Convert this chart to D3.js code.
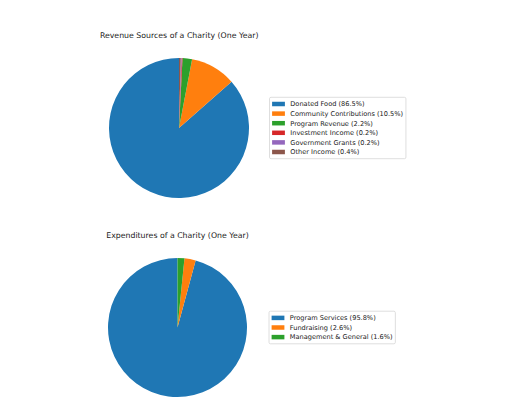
<!DOCTYPE html>
<html>
<head>
<meta charset="utf-8">
<script src="https://cdn.jsdelivr.net/npm/d3@7"></script>
<style>
  html, body { margin: 0; padding: 0; background: #fff; }
  svg { display: block; }
  text { font-family: "DejaVu Sans", sans-serif; fill: #1a1a1a; }
</style>
</head>
<body>
<svg id="chart" width="512" height="415"></svg>
<script>
// ---- data ----
const revenueTitle = "Revenue Sources of a Charity (One Year)";
const revenueCategories = ["Donated Food", "Community Contributions", "Program Revenue", "Investment Income", "Government Grants", "Other Income"];
const revenueValues = [86.5, 10.5, 2.2, 0.2, 0.2, 0.4];

const expenseTitle = "Expenditures of a Charity (One Year)";
const expenseCategories = ["Program Services", "Fundraising", "Management & General"];
const expenseValues = [95.8, 2.6, 1.6];

const palette = ["#1f77b4", "#ff7f0e", "#2ca02c", "#d62728", "#9467bd", "#8c564b"];

// ---- layout ----
const svg = d3.select("#chart");

const panels = [
  { title: revenueTitle, cats: revenueCategories, vals: revenueValues,
    cx: 179, cy: 128, r: 70, titleX: 179.2, titleY: 38, legX: 269.5 },
  { title: expenseTitle, cats: expenseCategories, vals: expenseValues,
    cx: 177.5, cy: 327.5, r: 69.5, titleX: 177.5, titleY: 237.5, legX: 269 }
];

const fmt = v => d3.format(".1f")(v) + "%";

panels.forEach(p => {
  const color = d3.scaleOrdinal().domain(p.cats).range(palette);
  const total = d3.sum(p.vals);
  const data = p.cats.map((c, i) => ({ cat: c, val: p.vals[i] }));

  // counterclockwise from 12 o'clock (matplotlib startangle=90)
  const pie = d3.pie().sort(null).value(d => d.val).startAngle(0).endAngle(-2 * Math.PI);
  const arc = d3.arc().innerRadius(0).outerRadius(p.r);

  svg.append("text")
    .attr("x", p.titleX).attr("y", p.titleY)
    .attr("text-anchor", "middle")
    .style("font-size", "7.8px")
    .text(p.title);

  const g = svg.append("g").attr("transform", `translate(${p.cx},${p.cy})`);
  g.selectAll("path").data(pie(data)).join("path")
    .attr("d", arc)
    .attr("fill", d => color(d.data.cat));

  // legend
  const fs = 6.6;
  const rowH = 9.6;
  const n = data.length;
  const boxH = (n - 1) * rowH + 13.4;
  const boxTop = p.cy - boxH / 2;
  const leg = svg.append("g").attr("transform", `translate(${p.legX},${boxTop})`);
  const frame = leg.append("rect")
    .attr("x", 0).attr("y", 0)
    .attr("height", boxH)
    .attr("rx", 1.5).attr("ry", 1.5)
    .attr("fill", "#fff").attr("fill-opacity", 0.8)
    .attr("stroke", "#d6d6d6").attr("stroke-width", 0.8);

  let maxW = 0;
  data.forEach((d, i) => {
    const yc = 6.7 + i * rowH;
    leg.append("rect")
      .attr("x", 2.6).attr("y", yc - 2.25)
      .attr("width", 12.8).attr("height", 4.5)
      .attr("fill", color(d.cat));
    const t = leg.append("text")
      .attr("x", 20.8).attr("y", yc + 2.4)
      .style("font-size", fs + "px")
      .text(`${d.cat} (${fmt(d.val / total * 100)})`);
    maxW = Math.max(maxW, t.node().getComputedTextLength());
  });
  frame.attr("width", 20.8 + maxW + 2.8);
});
</script>
</body>
</html>
